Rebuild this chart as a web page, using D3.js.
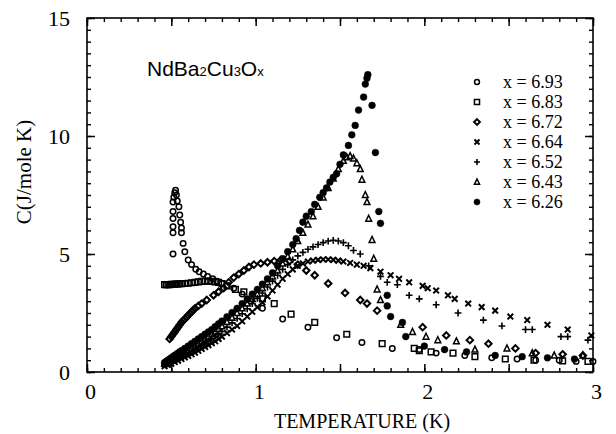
<!DOCTYPE html>
<html>
<head>
<meta charset="utf-8">
<script src="https://cdn.jsdelivr.net/npm/d3@7"></script>
<style>
  body { margin: 0; background: #fff; }
  text { fill: #000; }
</style>
</head>
<body>
<svg id="chart" width="616" height="434"></svg>
<script>
// data: [temperature K, C J/mole K]
var s693 = [[0.51,5.0],[0.51,5.9],[0.51,6.15],[0.51,6.5],[0.51,6.8],[0.51,7.2],[0.515,7.4],[0.52,7.6],[0.525,7.7],[0.53,7.5],[0.535,7.25],[0.545,7.0],[0.55,6.65],[0.555,6.35],[0.56,6.1],[0.56,5.9],[0.57,5.45],[0.58,5.1],[0.60,4.75],[0.62,4.55],[0.645,4.35],[0.665,4.25],[0.69,4.15],[0.715,4.05],[0.745,3.95],[0.77,3.85],[0.80,3.75],[0.83,3.65],[0.87,3.55],[0.92,3.3],[0.97,3.0],[1.04,2.7],[1.16,2.25],[1.31,1.9],[1.48,1.45],[1.63,1.25],[1.81,1.0],[1.97,0.95],[2.07,0.8],[2.24,0.7],[2.40,0.6],[2.55,0.55],[2.66,0.5],[2.80,0.5],[2.90,0.45],[3.0,0.45]];
var s683 = [[0.46,3.7],[0.47,3.7],[0.48,3.7],[0.49,3.7],[0.50,3.72],[0.51,3.72],[0.52,3.72],[0.53,3.73],[0.54,3.73],[0.55,3.74],[0.56,3.74],[0.58,3.75],[0.60,3.76],[0.62,3.78],[0.64,3.8],[0.66,3.82],[0.68,3.84],[0.70,3.85],[0.72,3.85],[0.74,3.84],[0.76,3.82],[0.78,3.8],[0.80,3.75],[0.83,3.65],[0.88,3.5],[0.93,3.4],[1.04,3.1],[1.11,2.9],[1.21,2.45],[1.35,2.1],[1.54,1.6],[1.75,1.2],[1.94,1.0],[1.97,0.9],[2.04,0.85],[2.17,0.8],[2.30,0.65],[2.48,0.55],[2.65,0.5],[2.82,0.47],[2.97,0.45]];
var s672 = [[0.49,1.4],[0.50,1.5],[0.51,1.6],[0.52,1.7],[0.53,1.8],[0.54,1.9],[0.55,2.0],[0.56,2.1],[0.57,2.18],[0.58,2.25],[0.59,2.32],[0.60,2.4],[0.61,2.48],[0.62,2.55],[0.63,2.62],[0.64,2.7],[0.66,2.8],[0.68,2.9],[0.71,3.05],[0.75,3.25],[0.78,3.4],[0.81,3.55],[0.84,3.8],[0.87,4.0],[0.90,4.15],[0.93,4.3],[0.96,4.45],[0.99,4.55],[1.03,4.6],[1.07,4.65],[1.11,4.7],[1.15,4.75],[1.20,4.7],[1.25,4.55],[1.30,4.3],[1.35,4.1],[1.43,3.75],[1.53,3.35],[1.62,3.05],[1.66,2.9],[1.72,2.6],[1.99,1.9],[2.13,1.55],[2.27,1.35],[2.38,1.2],[2.54,1.0],[2.66,0.8],[2.82,0.75],[2.94,0.7]];
var s664 = [[0.46,0.25],[0.48,0.3],[0.50,0.35],[0.52,0.42],[0.54,0.48],[0.56,0.55],[0.58,0.62],[0.60,0.68],[0.62,0.75],[0.64,0.82],[0.66,0.9],[0.68,0.98],[0.70,1.06],[0.72,1.14],[0.74,1.22],[0.76,1.3],[0.78,1.4],[0.80,1.5],[0.83,1.65],[0.86,1.8],[0.89,1.95],[0.92,2.15],[0.95,2.35],[0.98,2.55],[1.01,2.75],[1.04,2.95],[1.07,3.2],[1.10,3.45],[1.13,3.7],[1.16,3.95],[1.19,4.15],[1.22,4.35],[1.25,4.5],[1.28,4.6],[1.31,4.68],[1.34,4.72],[1.37,4.75],[1.40,4.77],[1.43,4.77],[1.46,4.75],[1.49,4.72],[1.52,4.68],[1.56,4.62],[1.60,4.55],[1.64,4.5],[1.68,4.4],[1.74,4.25],[1.80,4.1],[1.85,3.95],[1.91,3.8],[1.99,3.65],[2.02,3.55],[2.07,3.45],[2.14,3.25],[2.18,3.1],[2.26,2.9],[2.34,2.75],[2.42,2.6],[2.51,2.35],[2.61,2.2],[2.73,2.0],[2.85,1.8],[2.99,1.55]];
var s652 = [[0.46,0.3],[0.48,0.35],[0.50,0.42],[0.52,0.5],[0.54,0.57],[0.56,0.65],[0.58,0.73],[0.60,0.8],[0.62,0.88],[0.64,0.96],[0.66,1.05],[0.68,1.14],[0.70,1.23],[0.72,1.32],[0.74,1.42],[0.76,1.52],[0.78,1.62],[0.80,1.72],[0.83,1.9],[0.86,2.08],[0.89,2.27],[0.92,2.47],[0.95,2.68],[0.98,2.9],[1.01,3.12],[1.04,3.35],[1.07,3.6],[1.10,3.85],[1.13,4.1],[1.16,4.35],[1.19,4.55],[1.22,4.75],[1.25,4.92],[1.28,5.07],[1.31,5.2],[1.34,5.3],[1.37,5.4],[1.40,5.48],[1.43,5.55],[1.46,5.58],[1.49,5.55],[1.52,5.48],[1.55,5.35],[1.58,5.15],[1.62,5.0],[1.67,4.5],[1.74,4.05],[1.78,3.8],[1.84,3.7],[1.91,3.25],[1.97,3.1],[2.07,2.85],[2.20,2.5],[2.35,2.2],[2.46,1.95],[2.60,1.8],[2.64,1.8],[2.81,1.5],[2.85,1.5],[2.97,1.35]];
var s643 = [[0.46,0.35],[0.48,0.42],[0.50,0.5],[0.52,0.58],[0.54,0.66],[0.56,0.74],[0.58,0.83],[0.60,0.92],[0.62,1.0],[0.64,1.1],[0.66,1.2],[0.68,1.3],[0.70,1.4],[0.72,1.5],[0.74,1.6],[0.76,1.7],[0.78,1.82],[0.80,1.94],[0.83,2.12],[0.86,2.3],[0.89,2.5],[0.92,2.7],[0.95,2.9],[0.98,3.1],[1.01,3.3],[1.04,3.55],[1.07,3.8],[1.10,4.05],[1.13,4.3],[1.16,4.6],[1.19,4.9],[1.22,5.2],[1.25,5.55],[1.28,5.9],[1.31,6.25],[1.34,6.6],[1.37,7.0],[1.40,7.4],[1.43,7.8],[1.46,8.2],[1.49,8.6],[1.52,8.95],[1.54,9.1],[1.56,9.15],[1.58,9.05],[1.60,8.85],[1.62,8.6],[1.63,8.15],[1.65,7.5],[1.66,7.2],[1.67,6.5],[1.69,5.6],[1.70,4.8],[1.72,3.5],[1.74,3.05],[1.86,2.0],[1.93,1.7],[2.01,1.5],[2.08,1.35],[2.19,1.3],[2.30,0.95],[2.49,1.0],[2.64,0.8],[2.77,0.7],[2.94,0.7]];
var s626 = [[0.46,0.4],[0.47,0.45],[0.48,0.5],[0.49,0.55],[0.50,0.6],[0.51,0.65],[0.52,0.7],[0.53,0.75],[0.54,0.8],[0.55,0.85],[0.56,0.9],[0.58,1.0],[0.60,1.1],[0.62,1.2],[0.64,1.3],[0.66,1.4],[0.68,1.5],[0.70,1.6],[0.72,1.7],[0.74,1.8],[0.76,1.92],[0.78,2.04],[0.80,2.16],[0.83,2.34],[0.86,2.52],[0.89,2.7],[0.92,2.9],[0.95,3.1],[0.98,3.3],[1.01,3.5],[1.04,3.72],[1.07,3.95],[1.10,4.2],[1.13,4.5],[1.16,4.8],[1.19,5.1],[1.22,5.4],[1.24,5.65],[1.26,6.0],[1.28,6.35],[1.30,6.6],[1.33,6.8],[1.35,7.1],[1.38,7.4],[1.40,7.6],[1.42,7.8],[1.44,8.05],[1.46,8.25],[1.48,8.4],[1.50,8.8],[1.52,9.2],[1.55,9.6],[1.57,10.05],[1.59,10.45],[1.61,11.1],[1.64,11.65],[1.65,12.2],[1.66,12.45],[1.665,12.6],[1.69,11.3],[1.71,9.3],[1.73,6.8],[1.74,6.3],[1.78,3.25],[1.78,2.8],[1.80,2.35],[1.87,2.1],[1.89,1.5],[2.0,1.1],[2.12,0.95],[2.25,0.85],[2.42,0.7],[2.58,0.65],[2.73,0.6],[2.89,0.55]];

var labels = ["x = 6.93","x = 6.83","x = 6.72","x = 6.64","x = 6.52","x = 6.43","x = 6.26"];
var xTickLabels = [0, 1, 2, 3];
var yTickLabels = [0, 5, 10, 15];

// marker shapes, r = half width
var symCircle = {draw: function(c, s){ var r = Math.sqrt(s)/2; c.moveTo(r,0); c.arc(0,0,r,0,2*Math.PI); }};
var symSquare = {draw: function(c, s){ var r = Math.sqrt(s)/2; c.rect(-r,-r,2*r,2*r); }};
var symDiamond = {draw: function(c, s){ var r = Math.sqrt(s)/2; c.moveTo(0,-r); c.lineTo(r,0); c.lineTo(0,r); c.lineTo(-r,0); c.closePath(); }};
var symX = {draw: function(c, s){ var r = Math.sqrt(s)/2; c.moveTo(-r,-r); c.lineTo(r,r); c.moveTo(r,-r); c.lineTo(-r,r); }};
var symPlus = {draw: function(c, s){ var r = Math.sqrt(s)/2; c.moveTo(-r,0); c.lineTo(r,0); c.moveTo(0,-r); c.lineTo(0,r); }};
var symTri = {draw: function(c, s){ var r = Math.sqrt(s)/2; c.moveTo(0,-r); c.lineTo(r*0.85,r*0.75); c.lineTo(-r*0.85,r*0.75); c.closePath(); }};

var series = [
  {data: s693, sym: symCircle, size: 30, fill: "none", sw: 1.5},
  {data: s683, sym: symSquare, size: 32, fill: "none", sw: 1.5},
  {data: s672, sym: symDiamond, size: 42, fill: "none", sw: 2.0},
  {data: s664, sym: symX, size: 32, fill: "none", sw: 2.0},
  {data: s652, sym: symPlus, size: 46, fill: "none", sw: 1.6},
  {data: s643, sym: symTri, size: 46, fill: "none", sw: 1.5},
  {data: s626, sym: symCircle, size: 46, fill: "#000", sw: 0.5}
];

const main = function(){
  var svg = d3.select("#chart");
  var pl = 87, pr = 593, pt = 18, pb = 372;

  var x = d3.scaleLinear().domain([0, 3]).range([pl, pr]);
  var y = d3.scaleLinear().domain([0, 15]).range([pb, pt]);

  var serif = "'Liberation Serif', 'Times New Roman', serif";

  // minor ticks, all four sides
  function minor(axis, tv, tr) {
    svg.append("g").attr("transform", tr)
      .call(axis.tickValues(tv).tickSizeInner(-4).tickSizeOuter(0).tickFormat(""))
      .call(function(g){ g.select(".domain").remove(); g.selectAll("line").attr("stroke-width", 1.4); });
  }
  var xMinor = d3.range(0, 31).map(function(i){ return i / 10; });
  var yMinor = d3.range(0, 31).map(function(i){ return i / 2; });
  minor(d3.axisBottom(x), xMinor, "translate(0," + pb + ")");
  minor(d3.axisTop(x), xMinor, "translate(0," + pt + ")");
  minor(d3.axisLeft(y), yMinor, "translate(" + pl + ",0)");
  minor(d3.axisRight(y), yMinor, "translate(" + pr + ",0)");

  // major ticks
  var xMajor = d3.range(0, 7).map(function(i){ return i / 2; });
  svg.append("g").attr("transform", "translate(0," + pb + ")")
    .call(d3.axisBottom(x).tickValues(xMajor).tickSizeInner(-8).tickSizeOuter(0).tickPadding(11)
      .tickFormat(function(d){ return xTickLabels.indexOf(d) >= 0 ? d : ""; }))
    .call(function(g){
      g.select(".domain").remove();
      g.selectAll("line").attr("stroke-width", 1.5);
      g.selectAll("text").attr("font-family", serif).attr("font-size", 22).attr("dx", 3);
    });
  svg.append("g").attr("transform", "translate(0," + pt + ")")
    .call(d3.axisTop(x).tickValues(xMajor).tickSizeInner(-8).tickSizeOuter(0).tickFormat(""))
    .call(function(g){ g.select(".domain").remove(); g.selectAll("line").attr("stroke-width", 1.5); });
  svg.append("g").attr("transform", "translate(" + pl + ",0)")
    .call(d3.axisLeft(y).tickValues(yTickLabels).tickSizeInner(-8).tickSizeOuter(0).tickPadding(17))
    .call(function(g){
      g.select(".domain").remove();
      g.selectAll("line").attr("stroke-width", 1.5);
      g.selectAll("text").attr("font-family", serif).attr("font-size", 22);
    });
  svg.append("g").attr("transform", "translate(" + pr + ",0)")
    .call(d3.axisRight(y).tickValues(yTickLabels).tickSizeInner(-8).tickSizeOuter(0).tickFormat(""))
    .call(function(g){ g.select(".domain").remove(); g.selectAll("line").attr("stroke-width", 1.5); });

  // frame
  svg.append("rect")
    .attr("x", pl).attr("y", pt)
    .attr("width", pr - pl).attr("height", pb - pt)
    .attr("fill", "none").attr("stroke", "#000").attr("stroke-width", 1.6);

  // points
  series.forEach(function(s){
    svg.append("g").selectAll("path")
      .data(s.data)
      .join("path")
      .attr("transform", function(d){ return "translate(" + x(d[0]) + "," + y(d[1]) + ")"; })
      .attr("d", d3.symbol().type(s.sym).size(s.size))
      .attr("fill", s.fill)
      .attr("stroke", "#000")
      .attr("stroke-width", s.sw);
  });

  // legend
  var leg = svg.append("g");
  series.forEach(function(s, i){
    var ly = 82 + i * 20;
    leg.append("path")
      .attr("transform", "translate(477," + ly + ")")
      .attr("d", d3.symbol().type(s.sym).size(s.size * 0.8))
      .attr("fill", s.fill).attr("stroke", "#000").attr("stroke-width", s.sw);
    leg.append("text")
      .attr("x", 503).attr("y", ly + 6)
      .attr("font-family", serif).attr("font-size", 18)
      .text(labels[i]);
  });

  // compound name
  var title = svg.append("text")
    .attr("x", 147).attr("y", 76)
    .attr("font-family", "'Liberation Sans', Arial, sans-serif")
    .attr("font-size", 21);
  title.append("tspan").text("NdBa");
  title.append("tspan").attr("font-size", 13).text("2");
  title.append("tspan").text("Cu");
  title.append("tspan").attr("font-size", 13).text("3");
  title.append("tspan").text("O");
  title.append("tspan").attr("font-size", 13).text("x");

  // axis titles
  svg.append("text")
    .attr("x", 362).attr("y", 428)
    .attr("text-anchor", "middle")
    .attr("font-family", serif).attr("font-size", 20)
    .text("TEMPERATURE (K)");
  svg.append("text")
    .attr("transform", "translate(31,172) rotate(-90)")
    .attr("text-anchor", "middle")
    .attr("font-family", serif).attr("font-size", 21)
    .text("C(J/mole K)");
};

main();
</script>
</body>
</html>
